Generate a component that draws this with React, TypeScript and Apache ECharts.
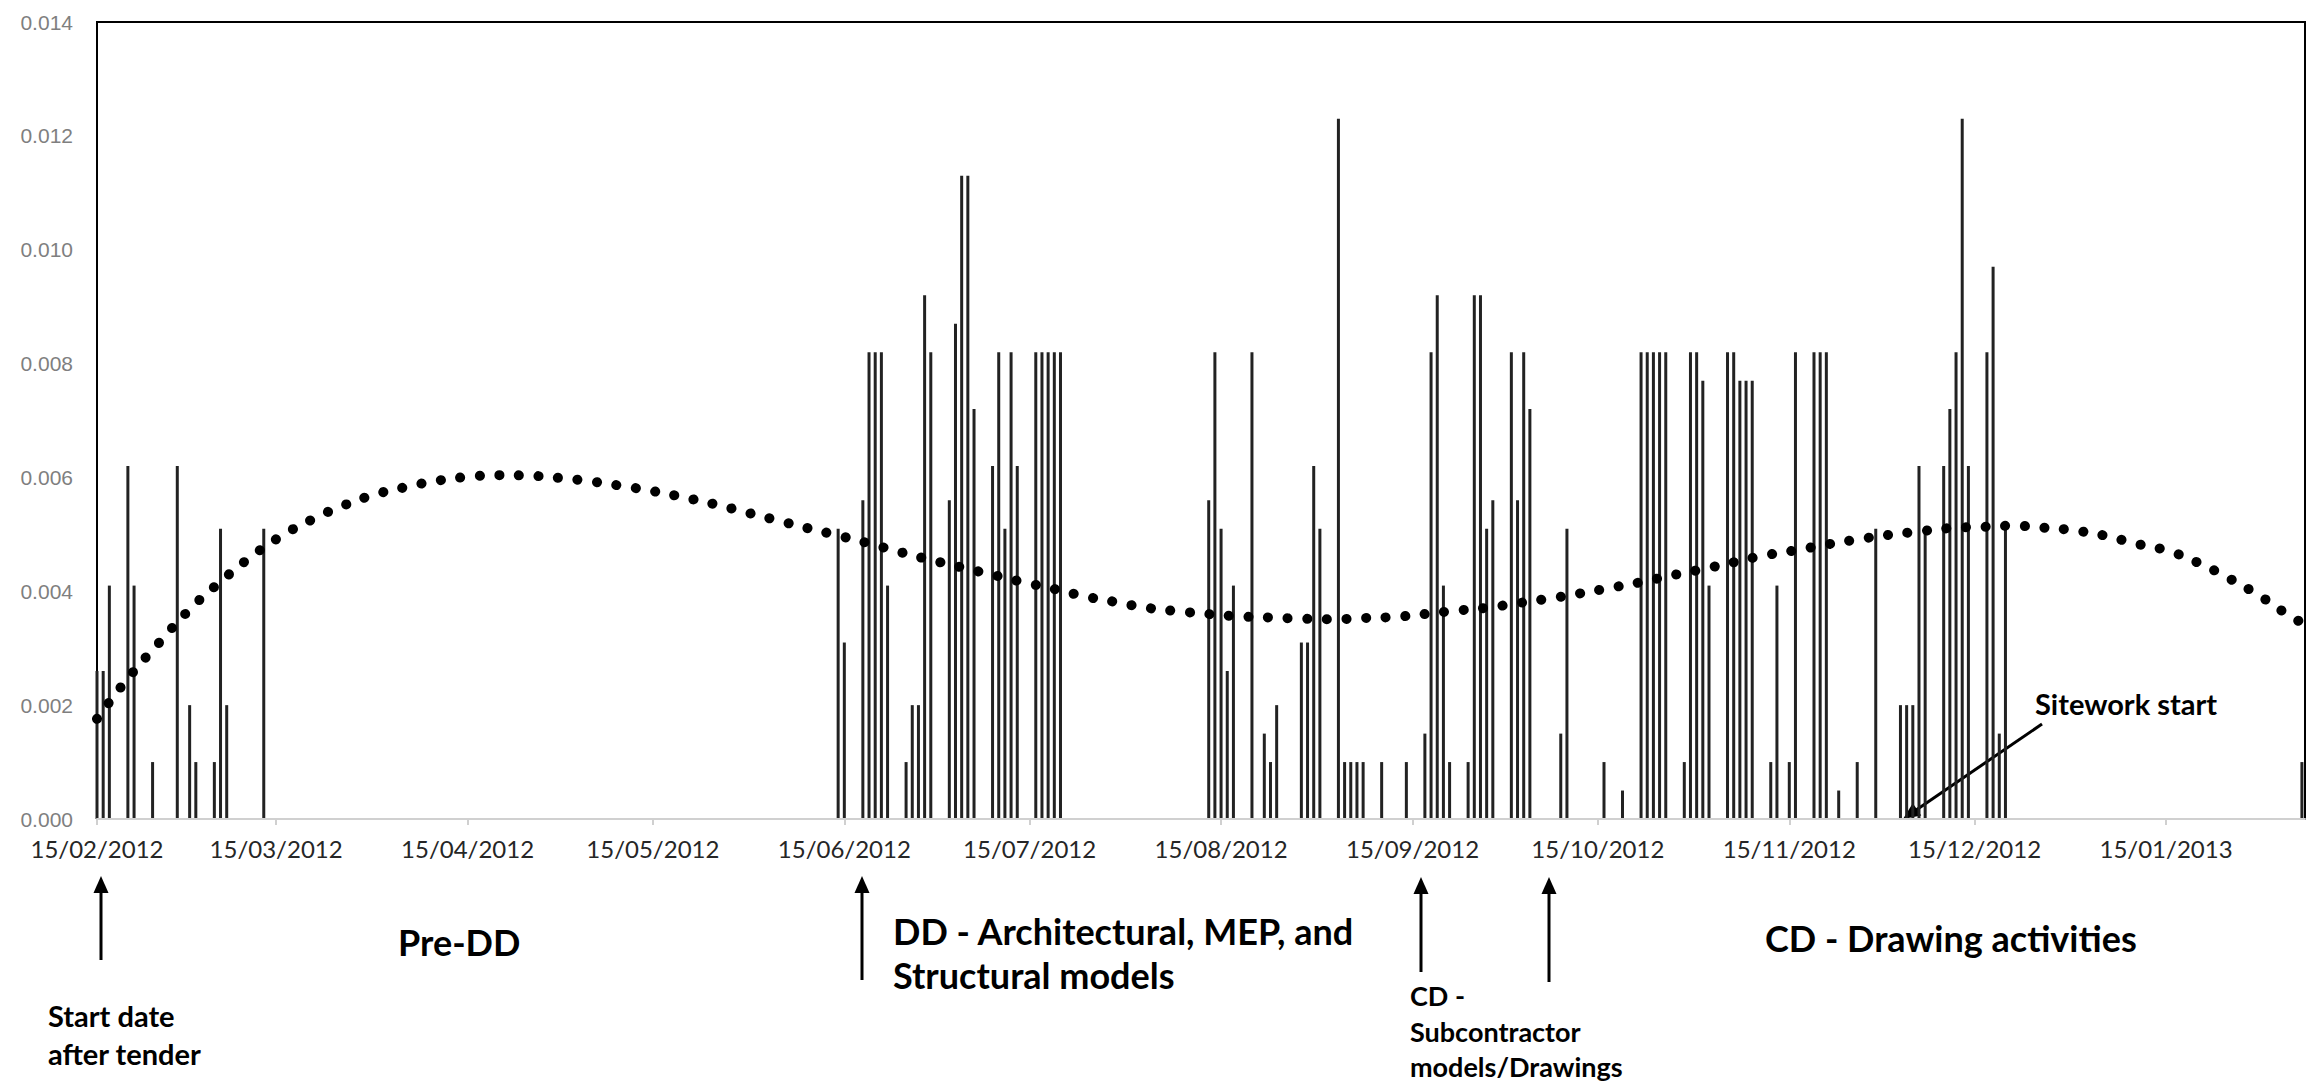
import React, { useEffect, useRef } from 'react';
import * as echarts from 'echarts';

// ---------- DATA ----------
const barDates = [
  '2012-02-15', '2012-02-16', '2012-02-17', '2012-02-20', '2012-02-21', '2012-02-24', '2012-02-28',
  '2012-03-01', '2012-03-02', '2012-03-05', '2012-03-06', '2012-03-07', '2012-03-13',
  '2012-06-14', '2012-06-15', '2012-06-18', '2012-06-19', '2012-06-20', '2012-06-21', '2012-06-22',
  '2012-06-25', '2012-06-26', '2012-06-27', '2012-06-28', '2012-06-29',
  '2012-07-02', '2012-07-03', '2012-07-04', '2012-07-05', '2012-07-06',
  '2012-07-09', '2012-07-10', '2012-07-11', '2012-07-12', '2012-07-13',
  '2012-07-16', '2012-07-17', '2012-07-18', '2012-07-19', '2012-07-20',
  '2012-08-13', '2012-08-14', '2012-08-15', '2012-08-16', '2012-08-17',
  '2012-08-20', '2012-08-22', '2012-08-23', '2012-08-24',
  '2012-08-28', '2012-08-29', '2012-08-30', '2012-08-31',
  '2012-09-03', '2012-09-04', '2012-09-05', '2012-09-06', '2012-09-07',
  '2012-09-10', '2012-09-14',
  '2012-09-17', '2012-09-18', '2012-09-19', '2012-09-20', '2012-09-21',
  '2012-09-24', '2012-09-25', '2012-09-26', '2012-09-27', '2012-09-28',
  '2012-10-01', '2012-10-02', '2012-10-03', '2012-10-04',
  '2012-10-09', '2012-10-10', '2012-10-16', '2012-10-19',
  '2012-10-22', '2012-10-23', '2012-10-24', '2012-10-25', '2012-10-26',
  '2012-10-29', '2012-10-30', '2012-10-31', '2012-11-01', '2012-11-02',
  '2012-11-05', '2012-11-06', '2012-11-07', '2012-11-08', '2012-11-09',
  '2012-11-12', '2012-11-13', '2012-11-15', '2012-11-16',
  '2012-11-19', '2012-11-20', '2012-11-21', '2012-11-23',
  '2012-11-26', '2012-11-29',
  '2012-12-03', '2012-12-04', '2012-12-05', '2012-12-06', '2012-12-07',
  '2012-12-10', '2012-12-11', '2012-12-12', '2012-12-13', '2012-12-14',
  '2012-12-17', '2012-12-18', '2012-12-19', '2012-12-20',
  '2013-02-06',
];
const barValues = [
  0.0026, 0.0026, 0.0041, 0.0062, 0.0041, 0.0010, 0.0062,
  0.0020, 0.0010, 0.0010, 0.0051, 0.0020, 0.0051,
  0.0051, 0.0031, 0.0056, 0.0082, 0.0082, 0.0082, 0.0041,
  0.0010, 0.0020, 0.0020, 0.0092, 0.0082,
  0.0056, 0.0087, 0.0113, 0.0113, 0.0072,
  0.0062, 0.0082, 0.0051, 0.0082, 0.0062,
  0.0082, 0.0082, 0.0082, 0.0082, 0.0082,
  0.0056, 0.0082, 0.0051, 0.0026, 0.0041,
  0.0082, 0.0015, 0.0010, 0.0020,
  0.0031, 0.0031, 0.0062, 0.0051,
  0.0123, 0.0010, 0.0010, 0.0010, 0.0010,
  0.0010, 0.0010,
  0.0015, 0.0082, 0.0092, 0.0041, 0.0010,
  0.0010, 0.0092, 0.0092, 0.0051, 0.0056,
  0.0082, 0.0056, 0.0082, 0.0072,
  0.0015, 0.0051, 0.0010, 0.0005,
  0.0082, 0.0082, 0.0082, 0.0082, 0.0082,
  0.0010, 0.0082, 0.0082, 0.0077, 0.0041,
  0.0082, 0.0082, 0.0077, 0.0077, 0.0077,
  0.0010, 0.0041, 0.0010, 0.0082,
  0.0082, 0.0082, 0.0082, 0.0005,
  0.0010, 0.0051,
  0.0020, 0.0020, 0.0020, 0.0062, 0.0051,
  0.0062, 0.0072, 0.0082, 0.0123, 0.0062,
  0.0082, 0.0097, 0.0015, 0.0051,
  0.0010,
];

// trend line (dotted)
const trendDates = [
  '2012-02-15', '2012-02-20', '2012-02-25', '2012-03-01', '2012-03-06', '2012-03-11', '2012-03-16',
  '2012-03-21', '2012-03-26', '2012-03-31', '2012-04-05', '2012-04-10', '2012-04-15', '2012-04-20',
  '2012-04-25', '2012-04-30', '2012-05-05', '2012-05-10', '2012-05-15', '2012-05-20', '2012-05-25',
  '2012-05-30', '2012-06-04', '2012-06-09', '2012-06-14', '2012-06-19', '2012-06-24', '2012-06-29',
  '2012-07-04', '2012-07-09', '2012-07-14', '2012-07-19', '2012-07-24', '2012-07-29', '2012-08-03',
  '2012-08-08', '2012-08-13', '2012-08-18', '2012-08-23', '2012-08-28', '2012-09-02', '2012-09-07',
  '2012-09-12', '2012-09-17', '2012-09-22', '2012-09-27', '2012-10-02', '2012-10-07', '2012-10-12',
  '2012-10-17', '2012-10-22', '2012-10-27', '2012-11-01', '2012-11-06', '2012-11-11', '2012-11-16',
  '2012-11-21', '2012-11-26', '2012-12-01', '2012-12-06', '2012-12-11', '2012-12-16', '2012-12-21',
  '2012-12-26', '2012-12-31', '2013-01-05', '2013-01-10', '2013-01-15', '2013-01-20', '2013-01-25',
  '2013-01-30', '2013-02-04', '2013-02-06',
];
const trendValues = [
  0.00176, 0.00247, 0.00309, 0.00368, 0.00417, 0.00461, 0.00498,
  0.00527, 0.00551, 0.00570, 0.00583, 0.00594, 0.00601, 0.00604,
  0.00603, 0.00599, 0.00593, 0.00585, 0.00576, 0.00565, 0.00553,
  0.00539, 0.00525, 0.00511, 0.00498, 0.00484, 0.00469, 0.00455,
  0.00442, 0.00429, 0.00416, 0.00404, 0.00391, 0.00381, 0.00371,
  0.00365, 0.00360, 0.00356, 0.00354, 0.00352, 0.00351, 0.00353,
  0.00355, 0.00360, 0.00366, 0.00371, 0.00379, 0.00387, 0.00396,
  0.00406, 0.00416, 0.00428, 0.00439, 0.00451, 0.00463, 0.00472,
  0.00482, 0.00491, 0.00499, 0.00505, 0.00511, 0.00513, 0.00515,
  0.00512, 0.00507, 0.00498, 0.00484, 0.00472, 0.00451, 0.00424,
  0.00393, 0.00357, 0.00345,
];

const tickDates = [
  '2012-02-15', '2012-03-15', '2012-04-15', '2012-05-15', '2012-06-15', '2012-07-15',
  '2012-08-15', '2012-09-15', '2012-10-15', '2012-11-15', '2012-12-15', '2013-01-15',
];
const axisStart = '2012-02-15T00';
const axisEnd = '2013-02-06T12';

// annotation texts
const phaseLabels = [
  { text: 'Pre-DD', x: 398, y: 942, size: 36 },
  { text: 'DD - Architectural, MEP, and', x: 893, y: 931, size: 36 },
  { text: 'Structural models', x: 893, y: 975, size: 36 },
  { text: 'CD - Drawing activities', x: 1765, y: 938, size: 36 },
  { text: 'Start date', x: 48, y: 1015, size: 29 },
  { text: 'after tender', x: 48, y: 1053, size: 29 },
  { text: 'CD -', x: 1410, y: 995, size: 27 },
  { text: 'Subcontractor', x: 1410, y: 1031, size: 27 },
  { text: 'models/Drawings', x: 1410, y: 1066, size: 27 },
  { text: 'Sitework start', x: 2035, y: 703, size: 29 },
];
const arrows = [
  { x1: 101, y1: 960, x2: 101, y2: 876 },
  { x1: 862, y1: 980, x2: 862, y2: 876 },
  { x1: 1421, y1: 972, x2: 1421, y2: 877 },
  { x1: 1549, y1: 982, x2: 1549, y2: 877 },
  { x1: 2042, y1: 724, x2: 1903, y2: 819 },
];

function ts(s: string): number {
  const [d, t] = s.split('T');
  const [y, m, dd] = d.split('-').map(Number);
  const h = t ? Number(t) : 0;
  return new Date(y, m - 1, dd, h).getTime();
}
function fmtDate(v: number): string {
  const d = new Date(v);
  const p = (n: number) => String(n).padStart(2, '0');
  return `${p(d.getDate())}/${p(d.getMonth() + 1)}/${d.getFullYear()}`;
}

function arrowGraphic(a: { x1: number; y1: number; x2: number; y2: number }) {
  const dx = a.x2 - a.x1;
  const dy = a.y2 - a.y1;
  const len = Math.sqrt(dx * dx + dy * dy);
  const ux = dx / len;
  const uy = dy / len;
  const headLen = 17;
  const headHalf = 7.5;
  const bx = a.x2 - ux * headLen;
  const by = a.y2 - uy * headLen;
  const px = -uy * headHalf;
  const py = ux * headHalf;
  return {
    type: 'group',
    silent: true,
    children: [
      {
        type: 'line',
        shape: { x1: a.x1, y1: a.y1, x2: a.x2 - ux * 8, y2: a.y2 - uy * 8 },
        style: { stroke: '#000', lineWidth: 3 },
      },
      {
        type: 'polygon',
        shape: { points: [[a.x2, a.y2], [bx + px, by + py], [bx - px, by - py]] },
        style: { fill: '#000' },
      },
    ],
  };
}

export default function App() {
  const ref = useRef<HTMLDivElement>(null);
  useEffect(() => {
    if (!ref.current) return;
    const chart = echarts.init(ref.current, undefined, { renderer: 'svg' });
    const tickTs = tickDates.map(ts);
    const barData = barDates.map((d, i) => [ts(d), barValues[i]]);
    const trendData = trendDates.map((d, i) => [ts(d), trendValues[i]]);

    const graphics: any[] = [];
    phaseLabels.forEach((l) => {
      graphics.push({
        type: 'text',
        silent: true,
        style: {
          text: l.text,
          x: l.x,
          y: l.y,
          fill: '#000',
          font: `bold ${l.size}px Lato`,
          align: 'left',
          verticalAlign: 'middle',
        },
      });
    });
    arrows.forEach((a) => graphics.push(arrowGraphic(a)));

    chart.setOption({
      animation: false,
      backgroundColor: '#ffffff',
      grid: {
        left: 97,
        right: 1,
        top: 22,
        bottom: 267,
        show: true,
        borderColor: '#000',
        borderWidth: 2,
        backgroundColor: 'transparent',
      },
      xAxis: {
        type: 'value',
        min: ts(axisStart),
        max: ts(axisEnd),
        z: 5,
        axisLine: { show: true, lineStyle: { color: '#d0d0d0', width: 2 } },
        axisTick: {
          show: true,
          customValues: tickTs,
          length: 6,
          lineStyle: { color: '#d0d0d0', width: 2 },
        },
        axisLabel: {
          customValues: tickTs,
          formatter: (v: number) => fmtDate(v),
          color: '#262626',
          fontFamily: 'Lato',
          fontSize: 24,
          margin: 17,
          hideOverlap: false,
          showMinLabel: true,
          showMaxLabel: true,
        },
        splitLine: { show: false },
      },
      yAxis: {
        type: 'value',
        min: 0,
        max: 0.014,
        interval: 0.002,
        axisLine: { show: false },
        axisTick: { show: false },
        splitLine: { show: false },
        axisLabel: {
          formatter: (v: number) => v.toFixed(3),
          color: '#7f7f7f',
          fontFamily: 'Liberation Sans',
          fontSize: 21,
          margin: 24,
        },
      },
      series: [
        {
          type: 'bar',
          data: barData,
          barWidth: 3,
          itemStyle: { color: '#222' },
          silent: true,
          z: 2,
        },
        {
          type: 'line',
          data: trendData,
          smooth: true,
          showSymbol: false,
          silent: true,
          z: 3,
          lineStyle: { color: '#000', width: 10, type: [0.1, 19.5], cap: 'round' },
        },
      ],
      graphic: graphics,
    });
    return () => chart.dispose();
  }, []);
  return (
    <div
      ref={ref}
      style={{ position: 'absolute', left: 0, top: 0, width: 2306, height: 1086, background: '#fff' }}
    />
  );
}
